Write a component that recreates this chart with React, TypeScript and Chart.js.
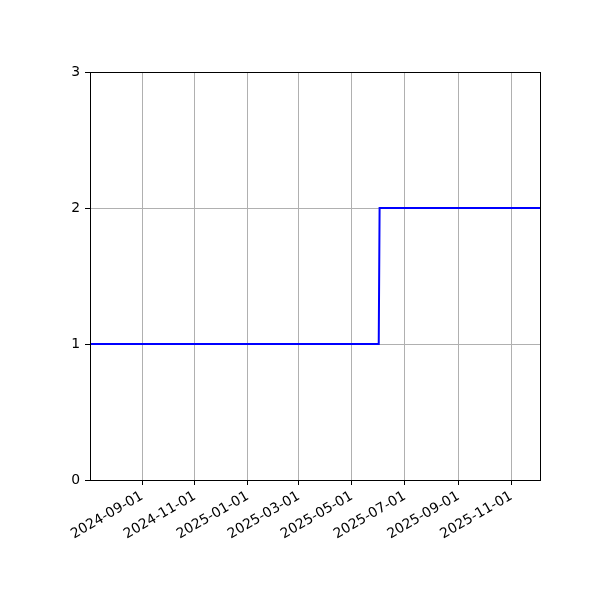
import { useEffect, useRef } from "react"
import { Chart, registerables } from "chart.js"

Chart.register(...registerables)

// step series: value holds at 1, then steps up to 2 in early June 2025
const dates = ["2024-07-03", "2025-06-01", "2025-06-02", "2025-12-04"]
const values = [1, 1, 2, 2]

// x tick positions (first of every other month)
const tickDates = [
  "2024-09-01",
  "2024-11-01",
  "2025-01-01",
  "2025-03-01",
  "2025-05-01",
  "2025-07-01",
  "2025-09-01",
  "2025-11-01",
]

const yTicks = [0, 1, 2, 3]

const DAY = 86400000
const toDay = (s: string) => Date.parse(s + "T00:00:00Z") / DAY
const fmtDay = (v: number) => new Date(Math.round(v) * DAY).toISOString().slice(0, 10)

const font = { family: "'DejaVu Sans', sans-serif", size: 13.9 }

// draws the four black spines over everything, pixel-aligned
const framePlugin = {
  id: "frame",
  afterDatasetsDraw(chart: Chart) {
    const { ctx, chartArea } = chart
    const l = Math.round(chartArea.left) + 0.5
    const t = Math.round(chartArea.top) + 0.5
    const r = Math.round(chartArea.right) + 0.5
    const b = Math.round(chartArea.bottom) + 0.5
    ctx.save()
    ctx.strokeStyle = "#000"
    ctx.lineWidth = 1
    ctx.strokeRect(l, t, r - l, b - t)
    ctx.restore()
  },
}

export default function App() {
  const chartRef = useRef<HTMLCanvasElement>(null)
  const chartInstance = useRef<Chart | null>(null)

  useEffect(() => {
    document.body.style.margin = "0"
    if (!chartRef.current) return
    const ctx = chartRef.current.getContext("2d")
    if (!ctx) return

    if (chartInstance.current) chartInstance.current.destroy()

    chartInstance.current = new Chart(ctx, {
      type: "line",
      data: {
        datasets: [
          {
            data: dates.map((d, i) => ({ x: toDay(d), y: values[i] })),
            borderColor: "#0000ff",
            borderWidth: 2,
            pointRadius: 0,
            tension: 0,
            fill: false,
          },
        ],
      },
      options: {
        animation: false,
        responsive: true,
        maintainAspectRatio: false,
        layout: { padding: { top: 72, right: 60, left: 0, bottom: 0 } },
        plugins: {
          legend: { display: false },
          tooltip: { enabled: false },
        },
        scales: {
          x: {
            type: "linear",
            min: toDay(dates[0]),
            max: toDay(dates[dates.length - 1]),
            afterBuildTicks: (scale: any) => {
              scale.ticks = tickDates.map((d) => ({ value: toDay(d) }))
            },
            afterFit: (scale: any) => {
              scale.height = 120
            },
            ticks: {
              autoSkip: false,
              minRotation: 30,
              maxRotation: 30,
              padding: 3,
              color: "#000",
              font,
              callback: (v: any) => fmtDay(Number(v)),
            },
            grid: {
              color: "#b0b0b0",
              lineWidth: 1,
              drawTicks: true,
              tickLength: 5,
              tickColor: "#000",
              tickWidth: 1,
            },
            border: { display: false },
          },
          y: {
            min: yTicks[0],
            max: yTicks[yTicks.length - 1],
            afterBuildTicks: (scale: any) => {
              scale.ticks = yTicks.map((v) => ({ value: v }))
            },
            afterFit: (scale: any) => {
              scale.width = 90
            },
            ticks: {
              padding: 5,
              color: "#000",
              font,
              callback: (v: any) => String(v),
            },
            grid: {
              color: "#b0b0b0",
              lineWidth: 1,
              drawTicks: true,
              tickLength: 5,
              tickColor: "#000",
              tickWidth: 1,
            },
            border: { display: false },
          },
        },
      },
      plugins: [framePlugin],
    })

    return () => {
      if (chartInstance.current) {
        chartInstance.current.destroy()
        chartInstance.current = null
      }
    }
  }, [])

  return (
    <div style={{ width: 600, height: 600, background: "#fff" }}>
      <canvas ref={chartRef}></canvas>
    </div>
  )
}
